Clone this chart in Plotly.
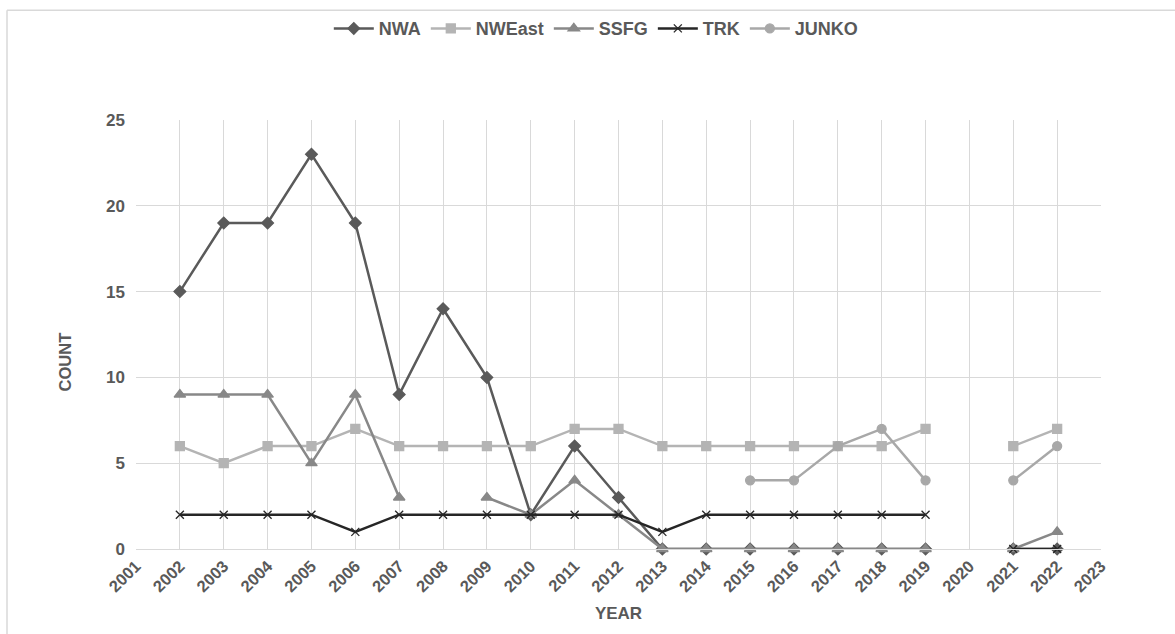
import plotly.graph_objects as go

years = [2002, 2003, 2004, 2005, 2006, 2007, 2008, 2009, 2010, 2011, 2012,
         2013, 2014, 2015, 2016, 2017, 2018, 2019, 2020, 2021, 2022]
nwa    = [15, 19, 19, 23, 19, 9, 14, 10, 2, 6, 3, 0, 0, 0, 0, 0, 0, 0, None, 0, 0]
nweast = [6, 5, 6, 6, 7, 6, 6, 6, 6, 7, 7, 6, 6, 6, 6, 6, 6, 7, None, 6, 7]
ssfg   = [9, 9, 9, 5, 9, 3, None, 3, 2, 4, 2, 0, 0, 0, 0, 0, 0, 0, None, 0, 1]
trk    = [2, 2, 2, 2, 1, 2, 2, 2, 2, 2, 2, 1, 2, 2, 2, 2, 2, 2, None, 0, 0]
junko  = [None, None, None, None, None, None, None, None, None, None, None,
          None, None, 4, 4, 6, 7, 4, None, 4, 6]
tick_years = list(range(2001, 2024))
y_ticks = [0, 5, 10, 15, 20, 25]

series = [
    ("NWA", nwa, "#5a5a5a", "diamond", 9),
    ("NWEast", nweast, "#b4b4b4", "square", 9),
    ("SSFG", ssfg, "#888888", "triangle-up", 10),
    ("TRK", trk, "#262626", "x-thin", 8),
    ("JUNKO", junko, "#a8a8a8", "circle", 9),
]

fig = go.Figure()
for name, vals, color, sym, size in series:
    fig.add_trace(go.Scatter(
        x=years, y=vals, name=name, mode="lines+markers",
        connectgaps=False, cliponaxis=False,
        line=dict(color=color, width=2.5),
        marker=dict(symbol=sym, size=size, color=color,
                    line=dict(color=color, width=1.3)),
    ))

font_fam = "Liberation Sans, Arial, sans-serif"
fig.update_layout(
    width=1175, height=634,
    margin=dict(l=136, r=74, t=119, b=85),
    paper_bgcolor="white", plot_bgcolor="white",
    font=dict(family=font_fam, size=16, color="#595959"),
    showlegend=True,
    legend=dict(orientation="h", x=0.477, xanchor="center", y=1.21, yanchor="middle",
                bgcolor="rgba(0,0,0,0)",
                font=dict(family=font_fam, size=18, color="#595959", weight="bold"),
                itemwidth=40, tracegroupgap=0),
    xaxis=dict(range=[2001, 2023], tickmode="array", tickvals=tick_years,
               ticktext=[str(y) for y in tick_years], tickangle=-45,
               showgrid=True, gridcolor="#d9d9d9", gridwidth=1,
               showline=True, linecolor="#d9d9d9", zeroline=False,
               ticks="", tickfont=dict(family=font_fam, size=16.5, color="#595959", weight="bold"),
               title=dict(text="<b>YEAR</b>", font=dict(family=font_fam, size=17, color="#595959"),
                          standoff=12)),
    yaxis=dict(range=[0, 25], tickmode="array", tickvals=y_ticks,
               showgrid=True, gridcolor="#d9d9d9", gridwidth=1,
               showline=False, zeroline=False, ticks="",
               ticklabelstandoff=10,
               tickfont=dict(family=font_fam, size=17, color="#595959", weight="bold")),
    shapes=[dict(type="line", xref="paper", yref="paper",
                 x0=-129/965, x1=1.1, y0=1 + 110/430, y1=1 + 110/430,
                 line=dict(color="#d9d9d9", width=1.5)),
            dict(type="line", xref="paper", yref="paper",
                 x0=-129/965, x1=-129/965, y0=-0.3, y1=1 + 110/430,
                 line=dict(color="#d9d9d9", width=1.5))],
    annotations=[dict(text="<b>COUNT</b>", xref="paper", yref="paper",
                      x=-71/965, y=(549-362)/430, textangle=-90, showarrow=False,
                      font=dict(family=font_fam, size=16.5, color="#595959"),
                      xanchor="center", yanchor="middle")],
)

fig.write_html("out.html")
